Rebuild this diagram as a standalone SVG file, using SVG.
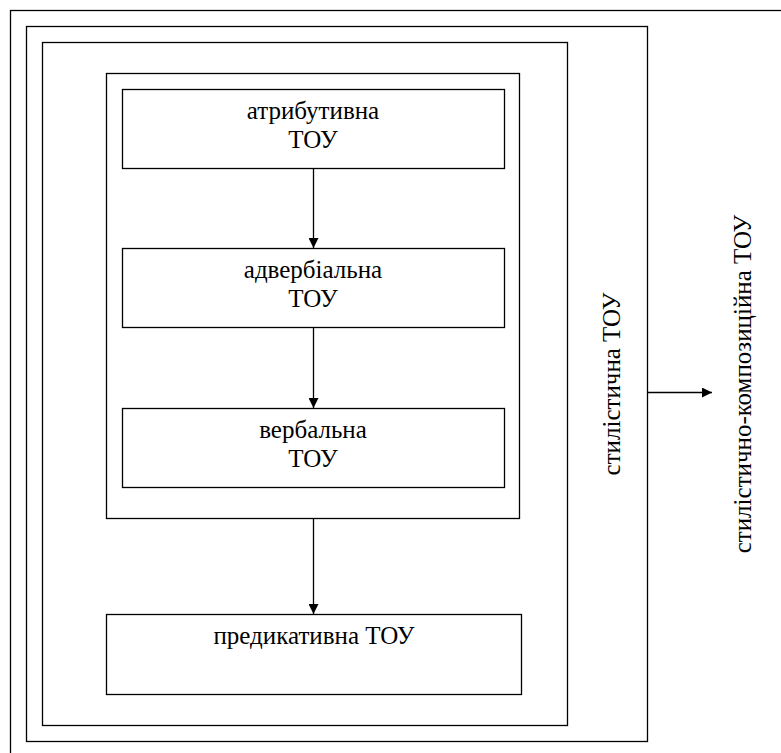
<svg xmlns="http://www.w3.org/2000/svg" width="781" height="753" viewBox="0 0 781 753">
  <style>
    .frame { fill: none; stroke: #000; stroke-width: 1.3; }
    .box { fill: #fff; stroke: #000; stroke-width: 1.3; }
    .lbl { font-family: 'Liberation Serif', 'DejaVu Serif', serif; font-size: 25px; fill: #000; text-anchor: middle; }
    .edge { stroke: #000; stroke-width: 1.3; fill: none; marker-end: url(#arrow); }
  </style>
  <defs>
    <marker id="arrow" viewBox="0 0 10 10" refX="10" refY="5" markerWidth="10" markerHeight="10" markerUnits="userSpaceOnUse" orient="auto">
      <path d="M0,0 L10,5 L0,10 z" fill="#000"/>
    </marker>
  </defs>
  <rect width="781" height="753" fill="#fff"/>

  <!-- outermost frame: стилістично-композиційна ТОУ -->
  <g id="stylistic-compositional">
    <rect class="frame" x="10.5" y="10.5" width="790" height="760"/>
    <text class="lbl" transform="translate(751,384) rotate(-90)">стилістично-композиційна ТОУ</text>
  </g>

  <!-- стилістична ТОУ frame -->
  <g id="stylistic">
    <rect class="frame" x="26.5" y="26.5" width="621" height="715"/>
    <text class="lbl" transform="translate(620,384) rotate(-90)">стилістична ТОУ</text>
  </g>

  <!-- inner container frame -->
  <g id="container">
    <rect class="frame" x="42.5" y="42.5" width="525" height="683"/>
  </g>

  <!-- group of three units -->
  <g id="unit-group">
    <rect class="frame" x="106.5" y="73.5" width="413" height="445"/>
  </g>

  <g id="attributive">
    <rect class="box" x="122.5" y="89.5" width="382" height="79"/>
    <text class="lbl" x="313" y="119">атрибутивна</text>
    <text class="lbl" x="313" y="148">ТОУ</text>
  </g>

  <g id="adverbial">
    <rect class="box" x="122.5" y="248.5" width="382" height="79"/>
    <text class="lbl" x="313" y="278">адвербіальна</text>
    <text class="lbl" x="313" y="307">ТОУ</text>
  </g>

  <g id="verbal">
    <rect class="box" x="122.5" y="408.5" width="382" height="79"/>
    <text class="lbl" x="313" y="438">вербальна</text>
    <text class="lbl" x="313" y="467">ТОУ</text>
  </g>

  <g id="predicative">
    <rect class="box" x="106.5" y="614.5" width="415" height="80"/>
    <text class="lbl" x="314" y="644">предикативна ТОУ</text>
  </g>

  <g id="connectors">
    <line class="edge" x1="313.5" y1="169" x2="313.5" y2="248"/>
    <line class="edge" x1="313.5" y1="328" x2="313.5" y2="408"/>
    <line class="edge" x1="313.5" y1="519" x2="313.5" y2="614"/>
    <line class="edge" x1="648" y1="392.5" x2="712" y2="392.5"/>
  </g>
</svg>
